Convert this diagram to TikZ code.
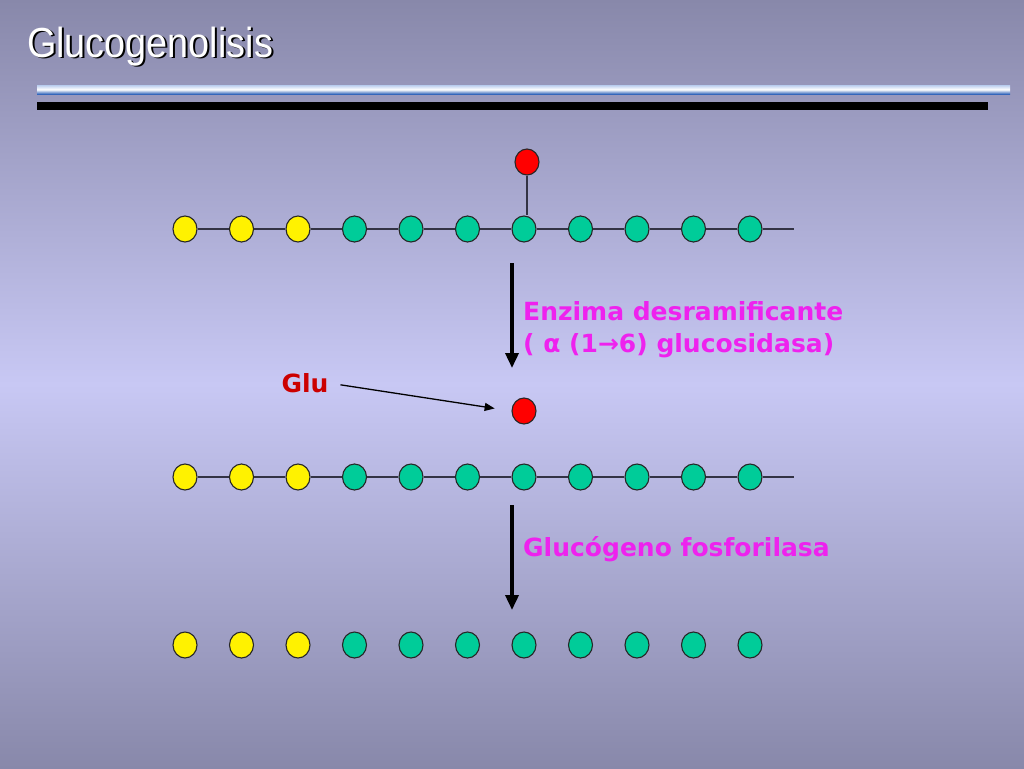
\documentclass[tikz,border=0pt]{standalone}
\usepackage{fontspec}
\usetikzlibrary{arrows.meta,shapes.geometric}
\newfontfamily\titlefont{Liberation Sans}
\newfontfamily\labelfont{DejaVu Sans}
\definecolor{bgedge}{HTML}{8888AA}
\definecolor{bgmid}{HTML}{C8C8F4}
\definecolor{glugreen}{HTML}{00CC99}
\definecolor{glured}{HTML}{FF0000}
\definecolor{enzmag}{HTML}{EE22EE}
\definecolor{gludark}{HTML}{CC0000}
\definecolor{bondgray}{HTML}{333344}
\definecolor{rulelight}{HTML}{B8CCEE}
\definecolor{ruleblue}{HTML}{3366BB}

\begin{document}
\begin{tikzpicture}[x=1pt, y=-1pt,
    unit/.style = {ellipse, draw=black!85, line width=1.1pt, minimum width=24pt, minimum height=26pt, inner sep=0pt},
    yunit/.style = {unit, fill=yellow},
    gunit/.style = {unit, fill=glugreen},
    runit/.style = {unit, fill=glured},
    bond/.style = {draw=bondgray, line width=1.5pt},
    stage arrow/.style = {line width=3.5pt, -{Triangle[width=13pt,length=15pt]}},
    headline/.style = {anchor=base west, inner sep=0pt, xscale=0.9, font=\titlefont\fontsize{42}{48}\selectfont},
    enzyme/.style = {text=enzmag, font=\labelfont\bfseries\fontsize{25}{29}\selectfont, anchor=west, inner sep=0pt}]

    % background
    \useasboundingbox (0,0) rectangle (1024,768);
    \shade[top color=bgedge, bottom color=bgedge, middle color=bgmid] (0,0) rectangle (1024,768);

    % title and rules
    \node[headline, text=black] at (29,59) {Glucogenolisis};
    \node[headline, text=white] (title) at (27,57) {Glucogenolisis};
    \shade[top color=rulelight, bottom color=ruleblue, middle color=white] (37,85) rectangle (1010,94);
    \fill[black] (37,102) rectangle (988,110);

    % rows of units
    \foreach \r/\y in {1/229, 2/477, 3/645} {
        \foreach \i in {1,2,3}
            \node[yunit] (r\r-\i) at ({185+(\i-1)*56.5},\y) {};
        \foreach \i in {4,...,11}
            \node[gunit] (r\r-\i) at ({185+(\i-1)*56.5},\y) {};
    }
    \coordinate (r1end) at (794,229);
    \coordinate (r2end) at (794,477);
    \foreach \r in {1,2} {
        \foreach \i [evaluate=\i as \j using int(\i+1)] in {1,...,10}
            \draw[bond] (r\r-\i) -- (r\r-\j);
        \draw[bond] (r\r-11) -- (r\r end);
    }

    % branch
    \node[runit] (branch) at (527,162) {};
    \draw[bond] (branch) -- (r1-7.north -| branch);
    \node[runit] (free) at (524,411) {};

    % steps
    \coordinate (s1top) at (512,263);
    \coordinate (s1bot) at (512,368);
    \draw[stage arrow] (s1top) -- (s1bot);
    \node[enzyme] (debr) at (523,311) {Enzima desramificante};
    \node[enzyme] (debr2) at (523,346) {( α (1→6) glucosidasa)};

    \coordinate (s2top) at (512,505);
    \coordinate (s2bot) at (512,610);
    \draw[stage arrow] (s2top) -- (s2bot);
    \node[enzyme] (phos) at (523,549) {Glucógeno fosforilasa};

    \node[text=gludark, font=\labelfont\bfseries\fontsize{25}{29}\selectfont, inner sep=0pt] (glu) at (305,383) {Glu};
    \draw[line width=1.3pt, -{Triangle[width=8pt,length=10pt]}, shorten <=12pt, shorten >=17pt] (glu.east) -- (free.west);

\end{tikzpicture}
\end{document}
